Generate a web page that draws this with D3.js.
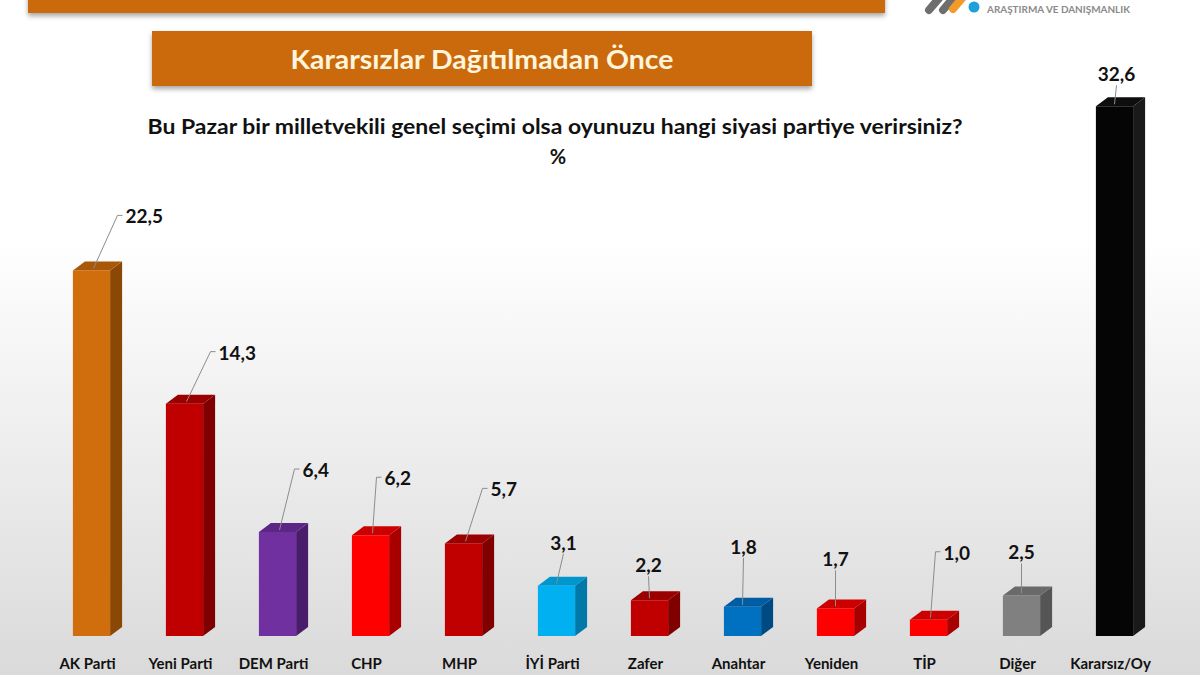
<!DOCTYPE html>
<html><head><meta charset="utf-8">
<script src="https://cdn.jsdelivr.net/npm/d3@7"></script>
<style>html,body{margin:0;padding:0;background:#fff;}svg{display:block;}</style>
</head><body>
<script>
// ---- data ----
const categories = ["AK Parti","Yeni Parti","DEM Parti","CHP","MHP","İYİ Parti","Zafer","Anahtar","Yeniden","TİP","Diğer","Kararsız/Oy"];
const values = [22.5,14.3,6.4,6.2,5.7,3.1,2.2,1.8,1.7,1.0,2.5,32.6];
const valueLabels = ["22,5","14,3","6,4","6,2","5,7","3,1","2,2","1,8","1,7","1,0","2,5","32,6"];
const frontColors = ["#D06D0C","#C00000","#7030A0","#FF0000","#C00000","#00B0F0","#C00000","#0070C0","#FF0000","#FF0000","#808080","#050505"];
const sideColors  = ["#8A4706","#7E0000","#4A1D6C","#A80000","#800000","#0079A8","#800000","#004A84","#A80000","#A80000","#555555","#1a1a1a"];
const topColors   = ["#A85808","#9A0000","#5C2687","#CC0000","#9A0000","#0095CC","#9A0000","#005CA3","#CC0000","#CC0000","#6A6A6A","#0e0e0e"];
// label layout: [dx from bar centre, dy from bar top, anchor] (manual leader placement)
const labelLayout = [[34,-47,"start"],[34,-44,"start"],[25,-55,"start"],[14,-50,"start"],[27,-47,"start"],[7,-36,"middle"],[-1,-28,"middle"],[1,-53,"middle"],[0,-42,"middle"],[15,-60,"start"],[0,-36,"middle"],[2,-25,"middle"]];

const W=1200,H=675;
const svg=d3.select("body").append("svg").attr("width",W).attr("height",H);
const defs=svg.append("defs");
const bg=defs.append("linearGradient").attr("id","bg").attr("x1",0).attr("y1",0).attr("x2",0).attr("y2",1);
bg.append("stop").attr("offset","0%").attr("stop-color","#ffffff");
bg.append("stop").attr("offset","35%").attr("stop-color","#ffffff");
bg.append("stop").attr("offset","100%").attr("stop-color","#dadada");
svg.append("rect").attr("width",W).attr("height",H).attr("fill","url(#bg)");
const sh=defs.append("filter").attr("id","shadow").attr("x","-5%").attr("y","-20%").attr("width","110%").attr("height","160%");
sh.append("feDropShadow").attr("dx",0).attr("dy",3).attr("stdDeviation",2.5).attr("flood-color","#000").attr("flood-opacity",0.35);

const font="Lato, 'Open Sans', sans-serif";

// top banners
svg.append("rect").attr("x",28).attr("y",-30).attr("width",857).attr("height",43).attr("fill","#CB6A10").attr("filter","url(#shadow)");
svg.append("rect").attr("x",152).attr("y",31).attr("width",660).attr("height",55).attr("fill","#CB6A10").attr("filter","url(#shadow)");
svg.append("text").attr("x",482).attr("y",69).attr("text-anchor","middle").attr("font-family",font).attr("font-weight","bold").attr("font-size",27).attr("textLength",383).attr("lengthAdjust","spacingAndGlyphs").attr("fill","#FFF4DC").text("Kararsızlar Dağıtılmadan Önce");

// logo
const logo=svg.append("g");
logo.append("line").attr("x1",929).attr("y1",10).attr("x2",941).attr("y2",-4).attr("stroke","#6e6e6e").attr("stroke-width",8).attr("stroke-linecap","round");
logo.append("line").attr("x1",943).attr("y1",10).attr("x2",955).attr("y2",-4).attr("stroke","#6e6e6e").attr("stroke-width",8).attr("stroke-linecap","round");
logo.append("line").attr("x1",953).attr("y1",9).attr("x2",964).attr("y2",-4).attr("stroke","#F39A2B").attr("stroke-width",8).attr("stroke-linecap","round");
logo.append("circle").attr("cx",974).attr("cy",7).attr("r",5.5).attr("fill","#1EA0DC");
logo.append("rect").attr("x",985).attr("y",-10).attr("width",145).attr("height",10).attr("fill","#8a8a8a");
logo.append("text").attr("x",987).attr("y",13).attr("font-family",font).attr("font-weight","bold").attr("font-size",9.5).attr("textLength",143).attr("lengthAdjust","spacingAndGlyphs").attr("fill","#8a8a8a").text("ARAŞTIRMA VE DANIŞMANLIK");

// subtitle
svg.append("text").attr("x",555).attr("y",134).attr("text-anchor","middle").attr("font-family",font).attr("font-weight","bold").attr("font-size",21).attr("textLength",815).attr("lengthAdjust","spacingAndGlyphs").attr("fill","#111").text("Bu Pazar bir milletvekili genel seçimi olsa oyunuzu hangi siyasi partiye verirsiniz?");
svg.append("text").attr("x",558).attr("y",164).attr("text-anchor","middle").attr("font-family",font).attr("font-weight","bold").attr("font-size",20).attr("fill","#111").text("%");

// scales
const x=d3.scaleBand().domain(categories).range([45,1161]).padding(0);
const y=d3.scaleLinear().domain([0,32.6]).range([636,106.25]);
const fw=x.bandwidth()*0.4, dx=12, dy=9;
const data=categories.map((c,i)=>({c,v:values[i],i}));
const g=svg.append("g");
const bars=g.selectAll("g.bar").data(data).join("g").attr("class","bar");
bars.each(function(d){
  const sel=d3.select(this);
  const cx=x(d.c)+x.bandwidth()/2, x0=cx-fw/2, x1=cx+fw/2, top=y(d.v), base=y(0);
  sel.append("polygon").attr("points",[[x1,top],[x1+dx,top-dy],[x1+dx,base-dy],[x1,base]].map(p=>p.join(",")).join(" ")).attr("fill",sideColors[d.i]);
  sel.append("polygon").attr("points",[[x0,top],[x0+dx,top-dy],[x1+dx,top-dy],[x1,top]].map(p=>p.join(",")).join(" ")).attr("fill",topColors[d.i]);
  sel.append("rect").attr("x",x0).attr("y",top).attr("width",fw).attr("height",base-top).attr("fill",frontColors[d.i]);
  // leader + label
  const [ldx,ldy,anchor]=labelLayout[d.i];
  const px=cx+2, py=top-2;
  const lx=cx+ldx, ly=top+ldy;
  if(anchor==="start"){
    sel.append("polyline").attr("points",[[px,py],[lx-8,ly-8],[lx-3,ly-8]].map(p=>p.join(",")).join(" ")).attr("fill","none").attr("stroke","#8c8c8c").attr("stroke-width",1);
  } else {
    sel.append("line").attr("x1",px-2).attr("y1",py).attr("x2",lx).attr("y2",ly+4).attr("stroke","#8c8c8c").attr("stroke-width",1);
  }
  sel.append("text").attr("x",lx).attr("y",ly).attr("text-anchor",anchor).attr("font-family",font).attr("font-weight","bold").attr("font-size",19).attr("fill","#111").text(valueLabels[d.i]);
});

// category axis labels
const axis=d3.axisBottom(x).tickSize(0).tickPadding(0);
const ax=svg.append("g").attr("transform","translate(-4,658)").call(axis);
ax.select(".domain").remove();
ax.selectAll("text").attr("font-family",font).attr("font-weight","bold").attr("font-size",15).attr("fill","#111");
</script>
</body></html>
